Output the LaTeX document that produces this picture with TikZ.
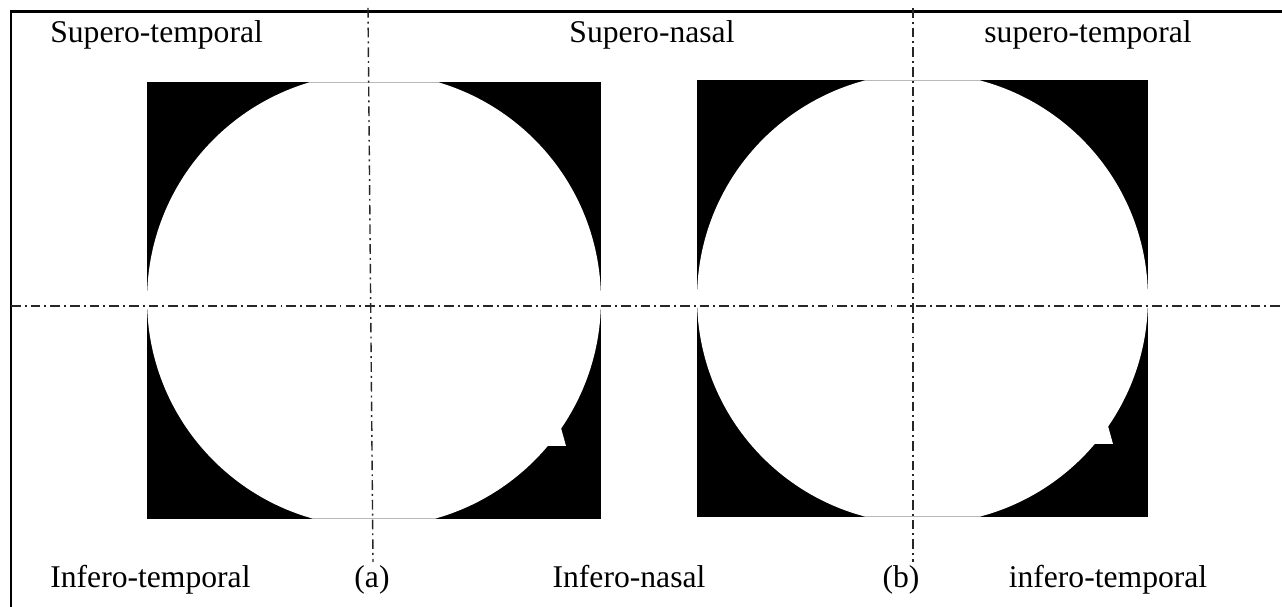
\documentclass[tikz,border=0pt]{standalone}
\usepackage{fontspec}
\setmainfont{Liberation Serif}
\usetikzlibrary{positioning}
\tikzset{
	regiontext/.style={font=\fontsize{18}{20}\selectfont, inner sep=0pt}
}
\tikzset{
	centerline/.style={line width=0.8pt, black!85, dash pattern=on 5.5pt off 2.3pt on 1.1pt off 2.3pt}
}
\tikzset{
	chordline/.style={line width=0.6pt, gray!55}
}
\begin{document}
\begin{tikzpicture}[x=0.02cm, y=-0.02cm]
      \useasboundingbox (0,0) rectangle (1282,607);
      % frame
      \draw[line width=1.7pt] (11,607) |- (1282,12);
      % panel (a)
      \fill[black] (147,82) rectangle (601,519);
      \begin{scope}
        \clip (147,82) rectangle (601,519);
        \fill[white] (374,300) circle (4.54cm);
        \clip (374,300) circle (4.54cm);
        \draw[chordline] (147,82.5) -- (601,82.5) (147,518.5) -- (601,518.5);
      \end{scope}
      \fill[white] (561,428) -- (566,446) -- (546,446) -- (550,432) -- cycle;
      % panel (b)
      \fill[black] (697,80) rectangle (1148,517);
      \begin{scope}
        \clip (697,80) rectangle (1148,517);
        \fill[white] (922.5,298.5) circle (4.51cm);
        \clip (922.5,298.5) circle (4.51cm);
        \draw[chordline] (697,80.5) -- (1148,80.5) (697,516.5) -- (1148,516.5);
      \end{scope}
      \fill[white] (1108,426) -- (1113,444) -- (1093,444) -- (1097,430) -- cycle;
      % centre lines
      \coordinate (hl) at (11,306);
      \coordinate (hr) at (1282,306);
      \coordinate (vat) at (368,8);
      \coordinate (vab) at (373,562);
      \coordinate (vbt) at (913,8);
      \coordinate (vbb) at (913,562);
      \draw[centerline] (hl) -- (hr);
      \draw[centerline] (vat) -- (vab);
      \draw[centerline] (vbt) -- (vbb);
      % labels
      \node[regiontext, anchor=base west] (st) at (50,43) {Supero-temporal};
      \node[regiontext, anchor=base] (sn) at (652,43) {Supero-nasal};
      \node[regiontext, anchor=base] (st2) at (1088,43) {supero-temporal};
      \node[regiontext, anchor=base west] (it) at (50,588) {Infero-temporal};
      \node[regiontext, anchor=base] (la) at (372,588) {(a)};
      \node[regiontext, anchor=base] (in) at (629,588) {Infero-nasal};
      \node[regiontext, anchor=base] (lb) at (901,588) {(b)};
      \node[regiontext, anchor=base] (it2) at (1108,588) {infero-temporal};
    \end{tikzpicture}
\end{document}
